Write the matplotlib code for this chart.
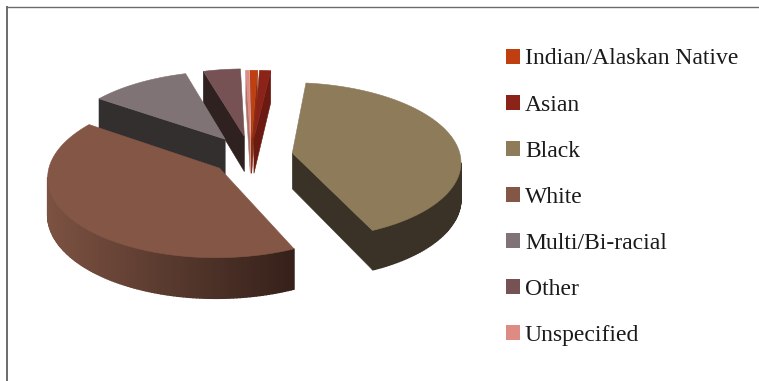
import numpy as np
import matplotlib
matplotlib.use("Agg")
import matplotlib.pyplot as plt
from matplotlib.colors import to_rgb
from matplotlib.patches import Patch, Polygon

categories = ["Indian/Alaskan Native", "Asian", "Black", "White",
              "Multi/Bi-racial", "Other", "Unspecified"]
shares = [0.7, 1.2, 41.4, 41.5, 10.8, 4.0, 0.4]

top_colors = ["#BF3F10", "#8B2318", "#8D7B5A", "#835645", "#7F7375", "#765254", "#DE8C83"]
wall_light = ["#8A3010", "#6A1A10", "#3A3226", "#7C5242", "#332F2E", "#2F2120", "#B0706A"]
wall_dark = ["#8A3010", "#6A1A10", "#3A3226", "#35211A", "#332F2E", "#2F2120", "#B0706A"]
explode = [0.235, 0.235, 0.25, 0.24, 0.27, 0.26, 0.235]

FIRST_ANGLE = -0.3   # degrees clockwise from 12 o'clock
CX, CY = 251, 156    # pie centre in image pixels
RX, RY = 168, 78
DEPTH = 36
PERSP = 0.10


def project(x, y, drop=0.0):
    s = 1 / (1 + PERSP * y)
    return CX + RX * x * s, CY + (-RY * y + DEPTH * drop) * s


def area(pts):
    a = 0.0
    for (x0, y0), (x1, y1) in zip(pts, pts[1:] + pts[:1]):
        a += x0 * y1 - x1 * y0
    return a / 2


def draw_poly(ax, pts, color, lw=0.4):
    ax.add_patch(Polygon(pts, closed=True, fc=color, ec=color, lw=lw))


def draw_slice(ax, start, stop, expl, top, light, dark):
    mid = np.radians((start + stop) / 2)
    ox, oy = expl * np.sin(mid), expl * np.cos(mid)
    th = np.radians(np.linspace(start, stop, max(int(stop - start), 3)))
    rim_x, rim_y = ox + np.sin(th), oy + np.cos(th)

    us = [project(x, y)[0] for x, y in zip(rim_x, rim_y)]
    umin, umax = min(us), max(us)
    c0, c1 = np.array(to_rgb(light)), np.array(to_rgb(dark))

    # flat cut faces
    for i, sign in ((0, -1), (-1, 1)):
        wall = [project(ox, oy), project(rim_x[i], rim_y[i]),
                project(rim_x[i], rim_y[i], 1), project(ox, oy, 1)]
        if area(wall) * sign > 0:
            draw_poly(ax, wall, dark)

    # outer rim, only the part facing the camera
    for i in range(len(th) - 1):
        quad = [project(rim_x[i], rim_y[i]), project(rim_x[i + 1], rim_y[i + 1]),
                project(rim_x[i + 1], rim_y[i + 1], 1), project(rim_x[i], rim_y[i], 1)]
        if area(quad) < 0:
            t = (us[i] - umin) / max(umax - umin, 1e-6)
            draw_poly(ax, quad, c0 + (c1 - c0) * t, lw=1.0)

    face = [project(ox, oy)] + [project(x, y) for x, y in zip(rim_x, rim_y)]
    draw_poly(ax, face, top)


fig = plt.figure(figsize=(7.59, 3.81), dpi=100)
ax = fig.add_axes([0, 0, 1, 1])
ax.set_xlim(0, 759)
ax.set_ylim(381, 0)
ax.axis("off")

# frame of the original slide, left and top only
ax.plot([7, 7], [381, 6], color="#6B6B6B", lw=1.4, solid_capstyle="butt")
ax.plot([6, 759], [6.5, 6.5], color="#6B6B6B", lw=1.0, solid_capstyle="butt")

edges = FIRST_ANGLE + np.concatenate([[0], np.cumsum(shares)]) / sum(shares) * 360
order = sorted(range(len(shares)),
               key=lambda i: -np.cos(np.radians((edges[i] + edges[i + 1]) / 2)))
for i in order:
    draw_slice(ax, edges[i], edges[i + 1], explode[i], top_colors[i], wall_light[i], wall_dark[i])

handles = [Patch(fc=c, ec="none", label=n) for c, n in zip(top_colors, categories)]
ax.legend(handles=handles, loc="upper left", bbox_to_anchor=(506 / 759, 1 - 48.5 / 381),
          frameon=False, prop={"family": "Liberation Serif", "size": 17},
          handlelength=0.6, handleheight=0.6, handletextpad=0.2,
          labelspacing=1.06, borderpad=0, borderaxespad=0, labelcolor="#1A1A1A")

fig.savefig("out.png", dpi=100)
